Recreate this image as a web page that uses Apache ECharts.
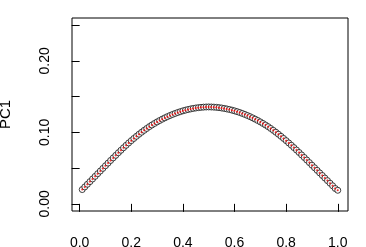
<!DOCTYPE html>
<html>
<head>
<meta charset="utf-8">
<script src="https://cdn.jsdelivr.net/npm/echarts@6/dist/echarts.min.js"></script>
<style>
html,body{margin:0;padding:0;background:#fff;}
#c{width:366px;height:247px;}
</style>
</head>
<body>
<div id="c"></div>
<script>
const xValues = [0.01,0.02,0.03,0.04,0.05,0.06,0.07,0.08,0.09,0.10,
0.11,0.12,0.13,0.14,0.15,0.16,0.17,0.18,0.19,0.20,
0.21,0.22,0.23,0.24,0.25,0.26,0.27,0.28,0.29,0.30,
0.31,0.32,0.33,0.34,0.35,0.36,0.37,0.38,0.39,0.40,
0.41,0.42,0.43,0.44,0.45,0.46,0.47,0.48,0.49,0.50,
0.51,0.52,0.53,0.54,0.55,0.56,0.57,0.58,0.59,0.60,
0.61,0.62,0.63,0.64,0.65,0.66,0.67,0.68,0.69,0.70,
0.71,0.72,0.73,0.74,0.75,0.76,0.77,0.78,0.79,0.80,
0.81,0.82,0.83,0.84,0.85,0.86,0.87,0.88,0.89,0.90,
0.91,0.92,0.93,0.94,0.95,0.96,0.97,0.98,0.99,1.00];
const pc1Values = [0.0200,0.0237,0.0274,0.0311,0.0348,0.0385,0.0422,0.0459,0.0496,0.0533,
0.0570,0.0607,0.0643,0.0679,0.0715,0.0750,0.0785,0.0819,0.0852,0.0884,
0.0915,0.0945,0.0974,0.1002,0.1029,0.1055,0.1080,0.1103,0.1125,0.1146,
0.1166,0.1185,0.1203,0.1220,0.1236,0.1251,0.1265,0.1278,0.1290,0.1301,
0.1311,0.1320,0.1328,0.1335,0.1341,0.1346,0.1350,0.1353,0.1355,0.1356,
0.1355,0.1353,0.1350,0.1346,0.1341,0.1335,0.1328,0.1320,0.1311,0.1301,
0.1290,0.1278,0.1265,0.1251,0.1236,0.1220,0.1203,0.1185,0.1166,0.1146,
0.1125,0.1103,0.1080,0.1055,0.1029,0.1002,0.0974,0.0945,0.0915,0.0884,
0.0852,0.0820,0.0787,0.0753,0.0719,0.0684,0.0649,0.0613,0.0577,0.0541,
0.0505,0.0469,0.0433,0.0397,0.0361,0.0325,0.0289,0.0253,0.0215,0.0190];
const fittedValues = pc1Values;
const xTicks = [0, 0.2, 0.4, 0.6, 0.8, 1.0];
const yTicks = [0, 0.05, 0.10, 0.15, 0.20, 0.25];
const yTickLabels = [0, 0.10, 0.20];
const yName = 'PC1';

const pts = xValues.map((x, i) => [x, pc1Values[i]]);
const fitPts = xValues.map((x, i) => [x, fittedValues[i]]);
const font = 'Liberation Sans, Arial, sans-serif';

const chart = echarts.init(document.getElementById('c'), null, {renderer: 'canvas'});
chart.setOption({
  animation: false,
  backgroundColor: '#fff',
  grid: {left: 72, top: 18, right: 18, bottom: 36, containLabel: false, outerBoundsMode: 'none',
    show: true, borderColor: '#000', borderWidth: 1, backgroundColor: 'transparent'},
  xAxis: {
    type: 'value', min: -0.0296, max: 1.0396,
    axisLine: {show: false},
    splitLine: {show: false},
    axisTick: {show: true, inside: false, length: 8, customValues: xTicks, lineStyle: {color: '#000', width: 1}},
    axisLabel: {show: true, margin: 25, customValues: xTicks, color: '#000', fontFamily: font, fontSize: 14,
      formatter: v => v.toFixed(1)}
  },
  yAxis: {
    type: 'value', min: -0.01, max: 0.26,
    name: yName, nameLocation: 'middle', nameGap: 59, nameRotate: 90,
    nameTextStyle: {color: '#000', fontFamily: font, fontSize: 15},
    axisLine: {show: false},
    splitLine: {show: false},
    axisTick: {show: true, inside: false, length: 8, customValues: yTicks, lineStyle: {color: '#000', width: 1}},
    axisLabel: {show: true, margin: 20, rotate: 90, customValues: yTickLabels, color: '#000', fontFamily: font, fontSize: 14,
      formatter: v => v.toFixed(2)}
  },
  series: [
    {type: 'scatter', data: pts, symbol: 'circle', symbolSize: 6,
     itemStyle: {color: '#fff', borderColor: '#111', borderWidth: 1}},
    {type: 'scatter', data: fitPts, symbol: 'circle', symbolSize: 2,
     itemStyle: {color: '#ff0000'}}
  ]
});
</script>
</body>
</html>
